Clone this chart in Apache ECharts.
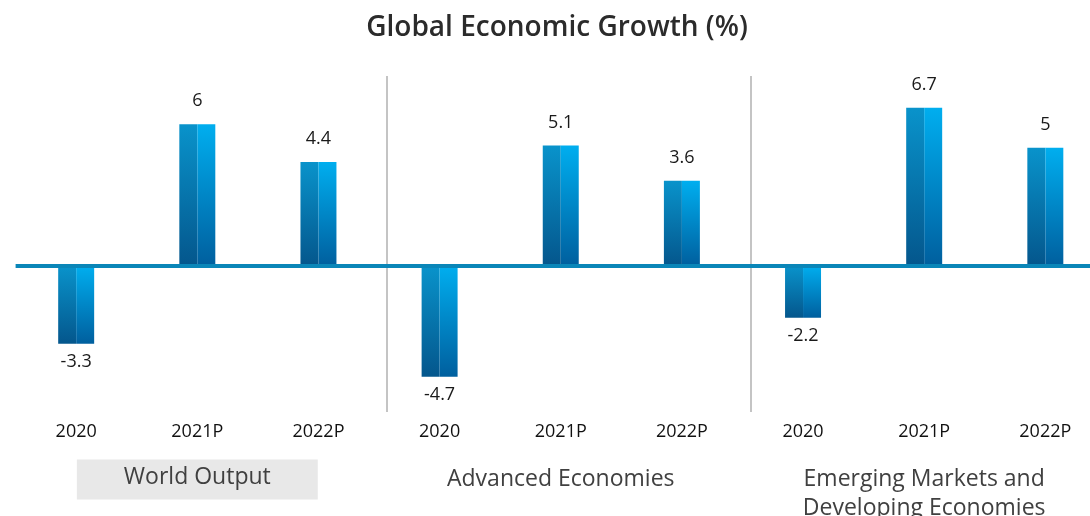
<!DOCTYPE html>
<html>
<head>
<meta charset="utf-8">
<script src="https://cdn.jsdelivr.net/npm/echarts@6/dist/echarts.min.js"></script>
<style>
html,body{margin:0;padding:0;background:#fff;}
#chart{width:1090px;height:516px;}
</style>
</head>
<body>
<div id="chart"></div>
<script>
const categories = ['2020', '2021P', '2022P', '2020', '2021P', '2022P', '2020', '2021P', '2022P'];
const groups = ['World Output', 'Advanced Economies', 'Emerging Markets and\nDeveloping Economies'];
const growth = [-3.3, 6, 4.4, -4.7, 5.1, 3.6, -2.2, 6.7, 5];

const FONT = '"Open Sans", "Noto Sans", sans-serif';
const chart = echarts.init(document.getElementById('chart'), null, {renderer: 'canvas'});

function grad(top, bottom) {
  return new echarts.graphic.LinearGradient(0, 0, 0, 1, [
    {offset: 0, color: top}, {offset: 1, color: bottom}
  ]);
}

function renderBar(params, api) {
  const idx = api.value(0);
  const v = api.value(1);
  const base = api.coord([idx, 0]);
  const end = api.coord([idx, v]);
  const w = api.size([1, 0])[0] * 0.297;
  const half = w / 2;
  const yTop = Math.min(base[1], end[1]);
  const h = Math.abs(end[1] - base[1]);
  return {
    type: 'group',
    children: [
      {type: 'rect', shape: {x: base[0] - half, y: yTop, width: half, height: h},
       style: {fill: grad('#0993cb', '#04568c')}},
      {type: 'rect', shape: {x: base[0], y: yTop, width: half, height: h},
       style: {fill: grad('#00aeef', '#005f9e')}},
      {type: 'text', style: {
        text: String(v), x: base[0], y: v >= 0 ? end[1] - 23 : end[1] + 18,
        align: 'center', verticalAlign: 'middle',
        fill: '#1a1a1a', font: '18px ' + FONT
      }}
    ]
  };
}

const option = {
  animation: false,
  backgroundColor: '#ffffff',
  title: {
    text: 'Global Economic Growth (%)',
    left: 552, top: 7, textAlign: 'center',
    textStyle: {fontFamily: FONT, fontSize: 28, fontWeight: 600, color: '#2b2b2b', lineHeight: 32}
  },
  grid: {left: 15.6, top: 76, width: 1090.3, height: 336, containLabel: false, outerBoundsMode: 'none'},
  xAxis: [
    {
      type: 'category', data: categories, gridIndex: 0, position: 'bottom',
      axisLine: {show: false}, axisTick: {show: false}, splitLine: {show: false},
      axisLabel: {margin: 11, fontFamily: FONT, fontSize: 18, color: '#111', interval: 0}
    },
    {
      type: 'category', data: groups, gridIndex: 0, position: 'bottom', offset: 53,
      axisLine: {show: false}, axisTick: {show: false}, splitLine: {show: false},
      axisLabel: {
        margin: 0, interval: 0,
        formatter: (v, i) => i === 0 ? '{box|' + v + '}' : '{txt|' + v + '}',
        rich: {
          box: {backgroundColor: '#e8e8e8', padding: [6, 47, 11, 47], lineHeight: 29,
                fontFamily: FONT, fontSize: 23, color: '#404040'},
          txt: {lineHeight: 29, fontFamily: FONT, fontSize: 23, color: '#404040'}
        }
      }
    },
    {type: 'value', gridIndex: 0, min: -0.5, max: 8.5, show: false}
  ],
  yAxis: {
    type: 'value', min: -6.19, max: 8.04, show: false, splitLine: {show: false}
  },
  series: [
    {
      type: 'line', xAxisIndex: 2, yAxisIndex: 0, data: [], silent: true,
      markLine: {
        silent: true, symbol: ['none', 'none'], label: {show: false},
        lineStyle: {color: '#c4c4c4', width: 2, type: 'solid'},
        data: [{xAxis: 2.565}, {xAxis: 5.57}]
      }
    },
    {
      type: 'custom', xAxisIndex: 0, yAxisIndex: 0,
      data: growth.map((v, i) => [i, v]),
      encode: {x: 0, y: 1},
      renderItem: renderBar,
      z: 3,
      markLine: {
        silent: true, symbol: ['none', 'none'], label: {show: false},
        lineStyle: {color: '#0a86b8', width: 4, type: 'solid'},
        data: [{yAxis: 0}]
      }
    }
  ]
};
chart.setOption(option);
</script>
</body>
</html>
